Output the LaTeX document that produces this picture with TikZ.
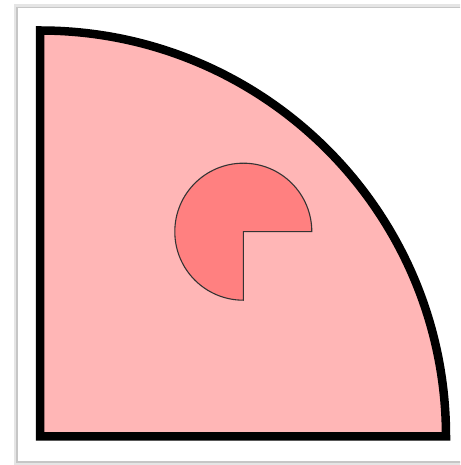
\documentclass[tikz,border=0pt]{standalone}
\begin{document}
\begin{tikzpicture}[x=1pt,y=1pt,
  outer/.style={draw=black,line width=8.5pt,fill=pinklight,line join=miter},
  inner/.style={draw=black!80,line width=1.1pt,fill=pinkdark},
  frame/.style={draw=gray!45,line width=1.6pt}]
\definecolor{pinklight}{HTML}{FFB6B6}
\definecolor{pinkdark}{HTML}{FF8080}
\useasboundingbox (0,0) rectangle (460,465);
\fill[white] (0,0) rectangle (460,465);
\begin{scope}
\clip (0,0) rectangle (460,465);
\draw[draw=gray!20,line width=3pt] (15.5,1.5) rectangle (480,459);
\draw[frame] (17,3) rectangle (480,457.5);
\end{scope}
\coordinate (O) at (40,28.5);
\coordinate (C) at (243.3,233.3);
\path[outer] (O) -- ++(0,406) arc[start angle=90,end angle=0,radius=406] -- cycle;
\path[inner] (C) -- ++(68.5,0) arc[start angle=0,end angle=270,radius=68.5] -- cycle;
\end{tikzpicture}
\end{document}
